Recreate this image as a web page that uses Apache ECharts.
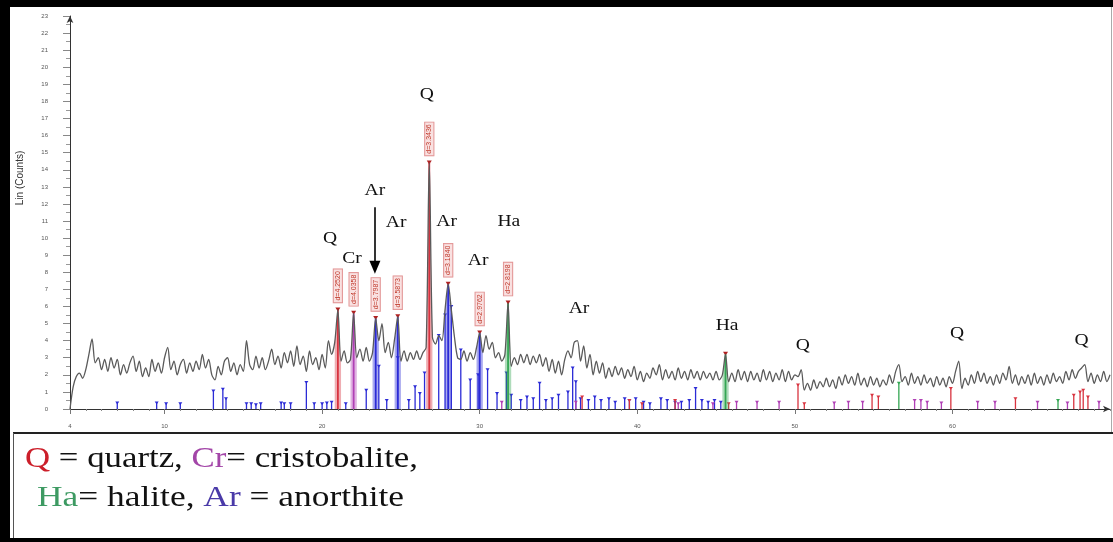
<!DOCTYPE html>
<html>
<head>
<meta charset="utf-8">
<script src="https://cdn.jsdelivr.net/npm/echarts@6/dist/echarts.min.js"></script>
<style>
  html, body { margin: 0; padding: 0; background: #fff; }
  #chart { width: 1113px; height: 542px; }
</style>
</head>
<body>
<div id="chart"></div>
<script>
// XRD scan: 2-theta from 4 to 70 deg, 0.2 deg steps
const scanStart = 4.0;
const scanStep = 0.2;
const counts = [
  0.0, 1.3, 1.9, 2.1, 1.8,   2.3, 3.2, 4.1, 2.7, 3.0,   2.3, 2.9, 2.2, 3.0, 2.4,   2.9, 2.0, 2.6, 2.1, 2.7,
  3.1, 2.2, 2.8, 1.9, 2.4,   1.9, 2.9, 2.2, 2.7, 2.1,   3.0, 3.6, 2.3, 2.8, 2.0,   2.6, 2.9, 2.1, 2.7, 2.2,
  2.8, 2.3, 3.2, 2.4, 2.9,   2.0, 1.7, 2.5, 2.0, 2.8,   3.0, 2.2, 2.7, 2.0, 2.6,   2.2, 4.0, 2.6, 2.3, 3.1,
  2.4, 3.0, 2.3, 2.8, 3.5,   2.6, 3.1, 2.4, 3.3, 2.7,   3.4, 2.5, 3.7, 2.6, 3.1,   2.2, 3.4, 2.6, 3.0, 2.3,
  3.2, 2.4, 4.0, 3.2, 3.9,   5.8, 2.8, 3.4, 2.7, 2.9,   5.6, 3.0, 3.5, 2.8, 3.6,   2.8, 3.3, 5.3, 4.0, 5.0,
  3.3, 3.9, 3.0, 4.1, 5.4,   2.8, 3.4, 2.8, 3.3, 2.9,   3.4, 2.9, 3.3, 3.6, 14.4,  4.2, 3.8, 4.3, 4.0, 5.8,
  7.3, 5.8, 4.2, 3.0, 2.9,   3.4, 2.8, 3.3, 2.9, 3.6,   4.45, 3.3, 4.3, 3.5, 3.9,  3.0, 3.3, 2.8, 3.2, 6.2,
  2.5, 3.0, 2.6, 3.2, 2.7,   3.2, 2.6, 3.1, 2.7, 3.2,   2.5, 3.0, 2.2, 2.9, 2.1,   2.8, 2.0, 2.9, 3.4, 3.0,
  3.9, 4.0, 2.8, 3.7, 2.4,   3.2, 2.0, 2.8, 2.1, 2.7,   1.8, 2.4, 1.9, 2.5, 2.0,   2.4, 1.8, 2.3, 1.9, 2.5,
  1.7, 2.2, 1.6, 2.1, 1.8,   2.4, 2.0, 2.6, 1.7, 2.3,   1.8, 2.2, 1.7, 2.4, 1.8,   2.2, 1.7, 2.3, 1.8, 2.2,
  1.7, 2.2, 1.8, 2.1, 1.7,   2.2, 1.7, 2.0, 3.2, 1.6,   2.1, 1.6, 2.3, 1.7, 2.2,   1.6, 2.2, 1.7, 2.1, 1.6,
  2.3, 1.7, 2.2, 1.6, 2.1,   1.7, 2.3, 1.6, 2.2, 1.7,   2.0, 1.9, 2.3, 1.1, 1.5,   1.1, 1.7, 1.2, 1.6, 1.3,
  1.8, 1.3, 1.7, 1.2, 1.9,   1.4, 2.0, 1.5, 1.9, 1.4,   2.1, 1.4, 1.8, 1.3, 1.9,   1.4, 1.8, 1.3, 1.7, 1.4,
  2.0, 1.5, 2.2, 2.6, 1.6,   1.9, 1.4, 2.1, 1.5, 1.9,   1.4, 2.0, 1.5, 1.8, 1.3,   1.9, 1.4, 1.8, 1.3, 1.9,
  1.5, 2.2, 2.8, 1.2, 1.8,   1.4, 2.0, 1.5, 2.2, 1.6,   2.1, 1.5, 1.9, 1.4, 2.0,   1.5, 2.1, 1.7, 2.5, 1.5,
  2.0, 1.4, 1.9, 1.5, 2.0,   1.4, 2.1, 1.5, 1.9, 1.4,   2.0, 1.5, 2.1, 1.6, 1.9,   1.5, 2.2, 1.7, 2.3, 1.8,
  2.2, 2.4, 2.6, 1.6, 2.1,   1.5, 2.0, 1.6, 2.2, 1.6,   2.0
];

const xTickLabels = [4, 10, 20, 30, 40, 50, 60];
const yMax = 23;

// identified peaks: [2-theta, phase, d-spacing label]
const majorPeaks = [
  [21.0, 'Q',  'd=4.2520'],
  [22.0, 'Cr', 'd=4.0358'],
  [23.4, 'Ar', 'd=3.7987'],
  [24.8, 'Ar', 'd=3.5873'],
  [26.8, 'Q',  'd=3.3436'],
  [28.0, 'Ar', 'd=3.1840'],
  [30.0, 'Ar', 'd=2.9762'],
  [31.8, 'Ha', 'd=2.8198'],
  [45.6, 'Ha', '']
];

// phase letters: [text, 2-theta, counts level]
const peakAnnotations = [
  ['Q', 20.5, 10.0], ['Cr', 21.9, 8.8], ['Ar', 23.35, 12.8], ['Ar', 24.7, 10.9],
  ['Q', 26.65, 18.4], ['Ar', 27.9, 11.0], ['Ar', 29.9, 8.7], ['Ha', 31.85, 11.0],
  ['Ar', 36.3, 5.9], ['Ha', 45.7, 4.9], ['Q', 50.5, 3.7], ['Q', 60.3, 4.4], ['Q', 68.2, 4.0]
];
// arrow under the third label: [2-theta, from counts, to counts]
const annotationArrow = [23.35, 11.8, 8.3];

// reference stick patterns: [2-theta, relative counts]
const refAnorthite = [
  [7.0,0.35],[9.5,0.35],[10.1,0.3],[11.0,0.3],[13.1,1.05],[13.7,1.15],[13.9,0.6],[15.2,0.3],[15.5,0.3],
  [15.8,0.25],[16.1,0.3],[17.4,0.35],[17.6,0.3],[18.0,0.3],[19.0,1.55],[19.5,0.3],[20.0,0.3],[20.3,0.35],
  [20.6,0.4],[21.5,0.3],[22.8,1.1],[23.6,2.5],[24.1,0.5],[24.8,3.0],[25.5,0.5],[25.9,1.3],[26.2,0.9],
  [26.5,2.1],[27.4,4.3],[27.8,5.5],[28.2,6.0],[28.8,3.45],[29.4,1.7],[29.9,2.0],[30.5,2.3],[31.1,0.9],
  [31.7,2.1],[32.0,0.8],[32.6,0.5],[33.0,0.7],[33.4,0.6],[33.8,1.5],[34.2,0.5],[34.6,0.6],[35.0,0.8],
  [35.6,1.0],[35.9,2.4],[36.1,1.6],[36.4,0.6],[36.9,0.5],[37.3,0.7],[37.7,0.5],[38.2,0.6],[38.6,0.4],
  [39.2,0.6],[39.5,0.5],[39.9,0.6],[40.4,0.4],[40.8,0.3],[41.5,0.6],[41.9,0.5],[42.4,0.4],[42.8,0.4],
  [43.3,0.5],[43.7,1.2],[44.1,0.5],[44.5,0.4],[44.9,0.5],[45.3,0.4]
];
const refQuartz = [
  [36.5,0.7],[39.5,0.5],[40.3,0.3],[42.4,0.5],[45.8,0.3],[50.2,1.4],[50.6,0.3],[54.9,0.8],[55.3,0.7],
  [59.9,1.2],[64.0,0.6],[67.7,0.8],[68.1,1.0],[68.3,1.1],[68.6,0.7]
];
const refCristobalite = [
  [31.4,0.4],[36.1,0.4],[42.6,0.3],[44.8,0.3],[46.3,0.4],[47.6,0.4],[49.0,0.4],[52.5,0.35],[53.4,0.4],
  [54.3,0.4],[57.6,0.5],[58.0,0.5],[58.4,0.4],[59.3,0.35],[61.6,0.4],[62.7,0.4],[65.4,0.4],[67.3,0.35],[69.3,0.4]
];
const refHalite = [[56.6,1.5],[66.7,0.5]];

const phaseColors = { Q: '#d8333f', Cr: '#b03fb5', Ha: '#34a653', Ar: '#2b2bd6' };

const serif = '"Liberation Serif", "Times New Roman", serif';
const scan = counts.map((c, i) => [+(scanStart + i * scanStep).toFixed(2), c]);
const idxOf = t => Math.round((t - scanStart) / scanStep);

function stickSeries(list, color) {
  return {
    type: 'custom',
    clip: false,
    data: list,
    renderItem: (params, api) => {
      const b = api.coord([api.value(0), 0]);
      const t = api.coord([api.value(0), api.value(1)]);
      return {
        type: 'group',
        children: [
          { type: 'line', shape: { x1: b[0], y1: b[1], x2: t[0], y2: t[1] },
            style: { stroke: color, lineWidth: 1.3 } },
          { type: 'polygon', shape: { points: [[t[0] - 2, t[1] - 1.5], [t[0] + 2, t[1] - 1.5], [t[0], t[1] + 1.5]] },
            style: { fill: color } }
        ]
      };
    }
  };
}

const chart = echarts.init(document.getElementById('chart'), null, { renderer: 'canvas' });

const tickEvery = [];
for (let v = 4; v <= 70; v++) tickEvery.push(v);

chart.setOption({
  animation: false,
  backgroundColor: '#ffffff',
  grid: { left: 70, right: 3, top: 16, bottom: 133, containLabel: false },
  xAxis: [
    {
      type: 'value', min: 4, max: 70, position: 'bottom',
      axisLine: { show: true, lineStyle: { color: '#333', width: 1 }, symbol: ['none', 'arrow'], symbolSize: [5, 7] },
      axisTick: { show: true, customValues: tickEvery, length: 2, lineStyle: { color: '#888' } },
      axisLabel: { show: false },
      splitLine: { show: false }
    },
    {
      type: 'value', min: 4, max: 70, position: 'bottom',
      axisLine: { show: false },
      axisTick: { show: true, customValues: xTickLabels, length: 5, lineStyle: { color: '#777' } },
      axisLabel: { show: true, customValues: xTickLabels, fontSize: 6, color: '#555', margin: 14, fontFamily: 'Arial, sans-serif' },
      splitLine: { show: false }
    }
  ],
  yAxis: {
    type: 'value', min: 0, max: yMax, interval: 1,
    axisLine: { show: true, lineStyle: { color: '#333', width: 1 }, symbol: ['none', 'arrow'], symbolSize: [5, 7] },
    axisTick: { show: true, length: 7, lineStyle: { color: '#888' } },
    minorTick: { show: true, splitNumber: 2, length: 4, lineStyle: { color: '#999' } },
    axisLabel: { fontSize: 6, color: '#555', margin: 22, fontFamily: 'Arial, sans-serif' },
    splitLine: { show: false }
  },
  series: [
    stickSeries(refAnorthite, phaseColors.Ar),
    stickSeries(refQuartz, phaseColors.Q),
    stickSeries(refCristobalite, phaseColors.Cr),
    stickSeries(refHalite, phaseColors.Ha),
    {
      // identified peaks: shaded area under the peak, stick and d-spacing tag
      type: 'custom',
      clip: false,
      z: 3,
      data: majorPeaks.map(p => [p[0], counts[idxOf(p[0])]]),
      renderItem: (params, api) => {
        const pk = majorPeaks[params.dataIndex];
        const i = idxOf(pk[0]);
        const col = phaseColors[pk[1]];
        const l0 = api.coord([pk[0] - scanStep, 0]);
        const l1 = api.coord([pk[0] - scanStep, counts[i - 1]]);
        const top = api.coord([pk[0], counts[i]]);
        const r1 = api.coord([pk[0] + scanStep, counts[i + 1]]);
        const r0 = api.coord([pk[0] + scanStep, 0]);
        const base = api.coord([pk[0], 0]);
        const kids = [
          { type: 'polygon', shape: { points: [l0, l1, top, r1, r0] },
            style: { fill: col, opacity: 0.4 } },
          { type: 'line', shape: { x1: base[0], y1: base[1], x2: top[0], y2: top[1] },
            style: { stroke: col, lineWidth: 1.8 } },
          { type: 'polygon', shape: { points: [[top[0] - 2.5, top[1] - 2.5], [top[0] + 2.5, top[1] - 2.5], [top[0], top[1] + 1.5]] },
            style: { fill: '#b02020' } }
        ];
        if (pk[2]) {
          kids.push({
            type: 'text', x: top[0], y: top[1] - 24, rotation: Math.PI / 2,
            style: {
              text: pk[2], fill: '#c0392b', fontSize: 7, fontFamily: 'Arial, sans-serif',
              align: 'center', verticalAlign: 'middle',
              backgroundColor: 'rgba(245,205,205,0.6)', borderColor: 'rgba(210,90,90,0.7)', borderWidth: 0.6,
              padding: [1, 2]
            }
          });
        }
        return { type: 'group', children: kids };
      }
    },
    {
      type: 'line',
      data: scan,
      symbol: 'none',
      smooth: 0.3,
      z: 4,
      lineStyle: { color: '#5a5a5a', width: 1.3 },
      markLine: {
        silent: true,
        symbol: ['none', 'triangle'],
        symbolSize: [11, 13],
        lineStyle: { color: '#000', width: 1.6, type: 'solid' },
        label: { show: false },
        data: [[{ coord: [annotationArrow[0], annotationArrow[1]] }, { coord: [annotationArrow[0], annotationArrow[2]] }]]
      }
    },
    {
      type: 'custom',
      clip: false,
      z: 5,
      data: peakAnnotations.map(a => [a[1], a[2]]),
      renderItem: (params, api) => {
        const a = peakAnnotations[params.dataIndex];
        const p = api.coord([a[1], a[2]]);
        return {
          type: 'text', x: p[0], y: p[1], scaleX: 1.15,
          style: { text: a[0], fill: '#111', fontSize: 17, fontFamily: serif,
                   align: 'center', verticalAlign: 'middle' }
        };
      }
    }
  ],
  graphic: [
    { type: 'rect', shape: { x: 0, y: 0, width: 1113, height: 7 }, style: { fill: '#000' } },
    { type: 'rect', shape: { x: 0, y: 0, width: 10, height: 542 }, style: { fill: '#000' } },
    { type: 'rect', shape: { x: 0, y: 538, width: 1113, height: 4 }, style: { fill: '#000' } },
    { type: 'line', shape: { x1: 1111.5, y1: 7, x2: 1111.5, y2: 432 }, style: { stroke: '#aaa', lineWidth: 1 } },
    { type: 'line', shape: { x1: 13, y1: 433, x2: 1113, y2: 433 }, style: { stroke: '#222', lineWidth: 2 } },
    { type: 'line', shape: { x1: 13.5, y1: 433, x2: 13.5, y2: 538 }, style: { stroke: '#555', lineWidth: 1 } },
    {
      type: 'text', x: 20, y: 178, rotation: Math.PI / 2,
      style: { text: 'Lin (Counts)', fill: '#333', fontSize: 10, fontFamily: 'Arial, sans-serif', align: 'center', verticalAlign: 'middle' }
    },
    {
      type: 'text', x: 25, y: 459, scaleX: 1.2,
      style: {
        text: '{q|Q} = quartz, {c|Cr}= cristobalite,',
        fill: '#111', fontSize: 29, fontFamily: serif,
        verticalAlign: 'middle',
        rich: {
          q: { fill: '#cc1f2a', fontSize: 29, fontFamily: serif },
          c: { fill: '#a346a8', fontSize: 29, fontFamily: serif }
        }
      }
    },
    {
      type: 'text', x: 37, y: 498, scaleX: 1.22,
      style: {
        text: '{h|Ha}= halite, {a|Ar} = anorthite',
        fill: '#111', fontSize: 29, fontFamily: serif,
        verticalAlign: 'middle',
        rich: {
          h: { fill: '#3d9a62', fontSize: 29, fontFamily: serif },
          a: { fill: '#4a3aa8', fontSize: 29, fontFamily: serif }
        }
      }
    }
  ]
});
</script>
</body>
</html>
